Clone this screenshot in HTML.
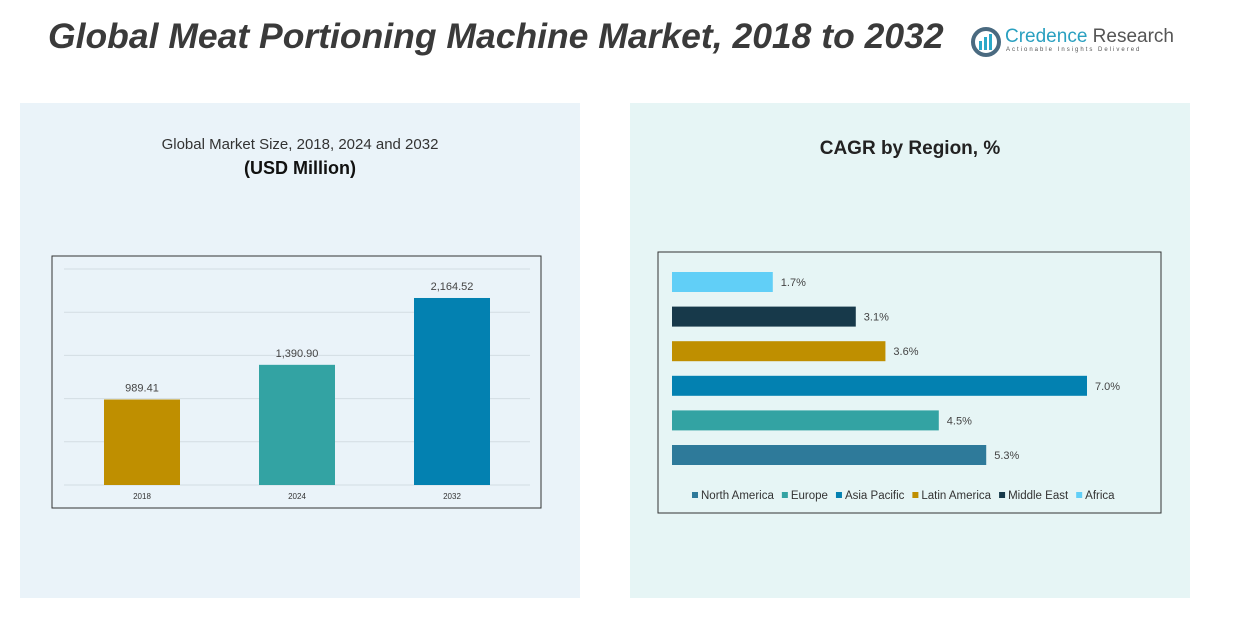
<!DOCTYPE html>
<html><head><meta charset="utf-8">
<style>
body{margin:0;width:1243px;height:622px;background:#fff;position:relative;overflow:hidden;font-family:"Liberation Sans",sans-serif;}
.abs{position:absolute;}
</style></head>
<body>
<div class="abs" style="left:20px;top:103px;width:560px;height:495px;background:#eaf3f9;"></div>
<div class="abs" style="left:630px;top:103px;width:560px;height:495px;background:#e6f5f5;"></div>
<div class="abs" style="left:48px;top:16px;font-size:35.5px;font-weight:bold;font-style:italic;color:#3a3a3a;white-space:nowrap;">Global Meat Portioning Machine Market, 2018 to 2032</div>
<div class="abs" style="left:970px;top:26px;width:200px;height:34px;">
 <svg width="32" height="32" style="position:absolute;left:0;top:0"><circle cx="16" cy="16" r="13" fill="none" stroke="#4a6a80" stroke-width="4"/><rect x="9" y="15" width="3" height="9" fill="#2aa8c8"/><rect x="14" y="11" width="3" height="13" fill="#2aa8c8"/><rect x="19" y="8" width="3" height="16" fill="#2aa8c8"/></svg>
 <div class="abs" style="left:35px;top:0;font-size:19px;color:#2aa0c0;white-space:nowrap;">Credence <span style="color:#555">Research</span></div>
 <div class="abs" style="left:36px;top:21px;font-size:6px;letter-spacing:2px;color:#555;white-space:nowrap;">Actionable Insights Delivered</div>
</div>
<div class="abs" style="left:20px;width:560px;top:136px;text-align:center;font-size:15px;color:#333;">Global Market Size, 2018, 2024 and 2032</div>
<div class="abs" style="left:20px;width:560px;top:158px;text-align:center;font-size:18px;font-weight:bold;color:#111;">(USD Million)</div>
<div class="abs" style="left:630px;width:560px;top:138px;text-align:center;font-size:19px;font-weight:bold;color:#222;">CAGR by Region, %</div>
<svg class="abs" style="left:0;top:0" width="1243" height="622" id="svg"></svg>
<script>
const years=["2018","2024","2032"];
const sizes=[989.41,1390.90,2164.52];
const sizeLabels=["989.41","1,390.90","2,164.52"];
const sizeColors=["#bf8f00","#33a3a3","#0381b1"];
const gridTicks=[0,500,1000,1500,2000,2500];
const regions=["Africa","Middle East","Latin America","Asia Pacific","Europe","North America"];
const cagr=[1.7,3.1,3.6,7.0,4.5,5.3];
const regionColors=["#61cff7","#17394a","#bf8f00","#0381b1","#33a3a3","#2e7a9a"];
const legendNames=["North America","Europe","Asia Pacific","Latin America","Middle East","Africa"];
const legendColors=["#2e7a9a","#33a3a3","#0381b1","#bf8f00","#17394a","#61cff7"];
const svg=document.getElementById('svg');
const NS='http://www.w3.org/2000/svg';
function mk(t,a,txt){const e=document.createElementNS(NS,t);for(const k in a)e.setAttribute(k,a[k]);if(txt!==undefined)e.textContent=txt;svg.appendChild(e);return e;}
let f=mk('rect',{x:52,y:256,width:489,height:252,fill:'none',stroke:'#333','stroke-width':1});


const y=v=>485-v*(216/2500);
gridTicks.forEach(t=>{const g=mk('line',{x1:64,x2:530,y1:y(t),y2:y(t),stroke:'#d3dde3','stroke-width':1});

});
const xc=i=>142+i*155;
sizes.forEach((v,i)=>{
 const b=mk('rect',{x:xc(i)-38,y:y(v),width:76,height:485-y(v),fill:sizeColors[i]});
 
 
 const l=mk('text',{x:xc(i),y:y(v)-8,'text-anchor':'middle','font-size':11,fill:'#444'},sizeLabels[i]);
 
 
 const c=mk('text',{x:xc(i),y:499,'text-anchor':'middle','font-size':8,fill:'#333'},years[i]);
 
 
});
let f2=mk('rect',{x:658,y:252,width:503,height:261,fill:'none',stroke:'#333','stroke-width':1});


const xs=v=>672+v*(415/7);
const yc=i=>282+i*34.6;
cagr.forEach((v,i)=>{
 const b=mk('rect',{x:672,y:yc(i)-10,width:xs(v)-672,height:20,fill:regionColors[i]});
 
 
 const l=mk('text',{x:xs(v)+8,y:yc(i)+4,'font-size':11,fill:'#444'},v.toFixed(1)+'%');
 
 
});
let lx=692;
legendNames.forEach((n,i)=>{
 const s=mk('rect',{x:lx,y:492,width:6,height:6,fill:legendColors[i]});
 
 
 const t=mk('text',{x:lx+9,y:499,'font-size':11.5,fill:'#333'},n);
 
 
 lx+=9+t.getComputedTextLength()+8;
});
</script>
</body></html>
